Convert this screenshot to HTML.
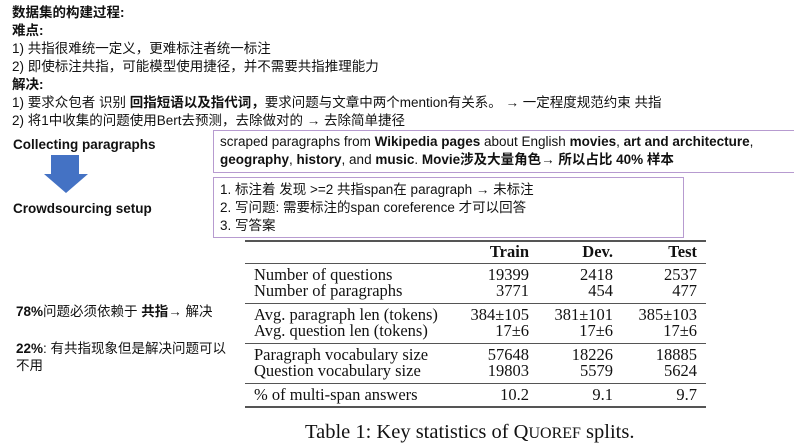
<!DOCTYPE html>
<html><head><meta charset="utf-8"><style>
body{margin:0;width:794px;height:446px;background:#fff;position:relative;overflow:hidden;font-family:"Liberation Sans","Noto Sans CJK SC",sans-serif;color:#111}
.t{position:absolute;white-space:nowrap;font-size:13.5px;line-height:18px}
.b{font-weight:bold}
.box{position:absolute;border:1.5px solid #b79bd0;box-sizing:border-box}
.tb{position:absolute;font-family:"Liberation Serif",serif;font-size:16.5px;line-height:18px;white-space:nowrap}
.r{position:absolute;left:245px;width:461px;background:#555}
</style></head><body>
<div class="t b" style="left:12px;top:4px">数据集的构建过程:</div>
<div class="t b" style="left:12px;top:22px">难点:</div>
<div class="t" style="left:12px;top:40px">1) 共指很难统一定义，更难标注者统一标注</div>
<div class="t" style="left:12px;top:58px">2) 即使标注共指，可能模型使用捷径，并不需要共指推理能力</div>
<div class="t b" style="left:12px;top:76px">解决:</div>
<div class="t" style="left:12px;top:94px">1) 要求众包者 识别 <b>回指短语以及指代词，</b>要求问题与文章中两个mention有关系。 <b>→</b> 一定程度规范约束 共指</div>
<div class="t" style="left:12px;top:112px">2) 将1中收集的问题使用Bert去预测，去除做对的 <b>→</b> 去除简单捷径</div>
<div class="t b" style="left:13px;top:136px">Collecting paragraphs</div>
<svg style="position:absolute;left:0;top:0" width="100" height="200"><polygon points="51,155 79,155 79,174 88,174 66,193 44,174 51,174" fill="#4472c4"/></svg>
<div class="t b" style="left:13px;top:200px">Crowdsourcing setup</div>
<div class="box" style="left:213px;top:130px;width:590px;height:43px"></div>
<div class="t" style="left:220px;top:133px">scraped paragraphs from <b>Wikipedia pages</b> about English <b>movies</b>, <b>art and architecture</b>,</div>
<div class="t" style="left:220px;top:151px"><b>geography</b>, <b>history</b>, and <b>music</b>. <b>Movie涉及大量角色→ 所以占比 40% 样本</b></div>
<div class="box" style="left:213px;top:177px;width:471px;height:61px"></div>
<div class="t" style="left:220px;top:181px">1. 标注着 发现 &gt;=2 共指span在 paragraph <b>→</b> 未标注</div>
<div class="t" style="left:220px;top:199px">2. 写问题: 需要标注的span coreference 才可以回答</div>
<div class="t" style="left:220px;top:217px">3. 写答案</div>
<div class="t" style="left:16px;top:303px"><b>78%</b>问题必须依赖于 <b>共指→</b> 解决</div>
<div class="t" style="left:16px;top:340px"><b>22%</b>: 有共指现象但是解决问题可以</div>
<div class="t" style="left:16px;top:357px">不用</div>
<div>
<div class="r" style="top:240px;height:2px"></div>
<div class="r" style="top:263px;height:1px"></div>
<div class="r" style="top:303px;height:1px"></div>
<div class="r" style="top:343px;height:1px"></div>
<div class="r" style="top:383px;height:1px"></div>
<div class="r" style="top:406px;height:2px"></div>
<div id="rows"></div>
</div>
<div class="tb" style="left:305px;top:420px;font-size:20.5px;line-height:24px">Table 1: Key statistics of Q<span style="font-size:16px">UOREF</span> splits.</div>
<script>
const headers=["Train","Dev.","Test"];
const labels=["Number of questions","Number of paragraphs","Avg. paragraph len (tokens)","Avg. question len (tokens)","Paragraph vocabulary size","Question vocabulary size","% of multi-span answers"];
const train=["19399","3771","384±105","17±6","57648","19803","10.2"];
const dev=["2418","454","381±101","17±6","18226","5579","9.1"];
const test=["2537","477","385±103","17±6","18885","5624","9.7"];
const tops=[266,282,306,322,346,362,386];
const rights=[529,613,697];
const c=document.getElementById('rows');
function add(txt,x,y,right,bold,name){const d=document.createElement('div');d.className='tb';d.textContent=txt;d.style.top=y+'px';
if(right){d.style.right=(794-x)+'px';}else d.style.left=x+'px';
if(bold)d.style.fontWeight='bold';


c.appendChild(d);}
headers.forEach((h,i)=>add(h,rights[i],243,true,true,'header-'+h.toLowerCase().replace('.','')));
labels.forEach((l,i)=>{add(l,254,tops[i],false,false,'row-label');
[train,dev,test].forEach((s,j)=>add(s[i],rights[j],tops[i],true,false,'cell-value'));});
</script>
</body></html>
